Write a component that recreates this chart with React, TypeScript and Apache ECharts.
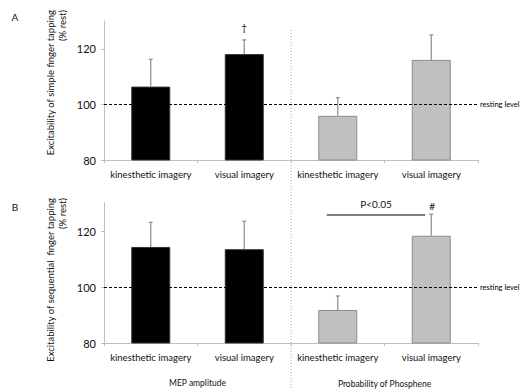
import React, { useEffect, useRef } from "react";
import * as echarts from "echarts";

const categories = ["kinesthetic imagery", "visual imagery", "kinesthetic imagery", "visual imagery"];
const groupTitles = ["MEP amplitude", "Probability of Phosphene"];
const yNames = ["Excitability of simple finger tapping\n(% rest)", "Excitability of sequential  finger tapping\n(% rest)"];
const yTicks = [80, 100, 120];

const simpleMeans = [106.4, 118.1, 95.9, 116.0];
const simpleSD = [9.8, 5.1, 6.5, 9.0];
const seqMeans = [114.3, 113.5, 91.8, 118.3];
const seqSD = [8.8, 10.0, 5.0, 7.7];
const restingLevel = 100;

const FONT = "Lato, 'Open Sans', sans-serif";
const BLACK = "#000000";
const GREY = "#c0c0c0";
const TXT = "#111";

function barData(means: number[]) {
  return means.map((v, i) => ({
    value: v,
    itemStyle: {
      color: i < 2 ? BLACK : GREY,
      borderColor: i < 2 ? "#333" : "#8c8c8c",
      borderWidth: 1,
    },
  }));
}

function errData(means: number[], sd: number[]) {
  return means.map((v, i) => [i, v, v + sd[i]]);
}

const errRender = (params: any, api: any) => {
  const i = api.value(0);
  const base = api.coord([i, api.value(1)]);
  const top = api.coord([i, api.value(2)]);
  const style = { stroke: "#8a8a8a", lineWidth: 1.2 };
  return {
    type: "group",
    children: [
      { type: "line", shape: { x1: base[0], y1: base[1], x2: top[0], y2: top[1] }, style },
      { type: "line", shape: { x1: top[0] - 2, y1: top[1], x2: top[0] + 2, y2: top[1] }, style },
    ],
  };
};

export default function App() {
  const ref = useRef<HTMLDivElement>(null);
  useEffect(() => {
    document.body.style.margin = "0";
    const chart = echarts.init(ref.current!, null, { renderer: "svg" });
    const mkX = (gi: number) => ({
      type: "category",
      gridIndex: gi,
      data: categories,
      axisLine: { lineStyle: { color: "#bfbfbf" } },
      axisTick: { show: true, length: 3, lineStyle: { color: "#bfbfbf" } },
      axisLabel: { interval: 0, hideOverlap: false, fontFamily: FONT, fontSize: 9.5, color: TXT, margin: 9 },
    });
    const mkY = (gi: number) => ({
      type: "value",
      gridIndex: gi,
      min: 80,
      max: 130,
      interval: 20,
      splitLine: { show: false },
      axisLine: { show: true, lineStyle: { color: "#bfbfbf" } },
      axisTick: { show: true, length: 3, lineStyle: { color: "#bfbfbf" }, customValues: yTicks },
      axisLabel: { fontFamily: FONT, fontSize: 11, color: TXT, margin: 8, customValues: yTicks },
    });
    const markLine = {
      silent: true,
      symbol: "none",
      lineStyle: { color: "#000", type: [3, 2], width: 1 },
      label: { show: true, position: "end", formatter: "resting level", fontFamily: FONT, fontSize: 7.5, color: "#000", distance: 2 },
      data: [{ yAxis: restingLevel }],
    };
    chart.setOption({
      animation: false,
      grid: [
        { left: 104, right: 53, top: 21, height: 139 },
        { left: 104, right: 53, top: 203, height: 140 },
      ],
      xAxis: [mkX(0), mkX(1)],
      yAxis: [mkY(0), mkY(1)],
      series: [
        { type: "bar", xAxisIndex: 0, yAxisIndex: 0, barWidth: 39, data: barData(simpleMeans), markLine },
        { type: "custom", xAxisIndex: 0, yAxisIndex: 0, renderItem: errRender, data: errData(simpleMeans, simpleSD), z: 5 },
        { type: "bar", xAxisIndex: 1, yAxisIndex: 1, barWidth: 39, data: barData(seqMeans), markLine },
        { type: "custom", xAxisIndex: 1, yAxisIndex: 1, renderItem: errRender, data: errData(seqMeans, seqSD), z: 5 },
      ],
    });

    const p = (gi: number, i: number, v: number) =>
      chart.convertToPixel({ gridIndex: gi } as any, [i, v]) as number[];
    const c1 = p(0, 1, 100);
    const c2 = p(0, 2, 100);
    const divX = (c1[0] + c2[0]) / 2;
    const c0 = p(0, 0, 100);
    const c3 = p(0, 3, 100);
    const dagger = p(0, 1, simpleMeans[1] + simpleSD[1]);
    const hash = p(1, 3, seqMeans[3] + seqSD[3]);
    const bar2 = p(1, 2, 130);
    const topA = p(0, 0, 130);
    const topB = p(1, 0, 130);
    const txt = (x: number, y: number, text: string, size: number, align = "center") => ({
      type: "text",
      x,
      y,
      style: { text, fontFamily: FONT, fontSize: size, fill: TXT, align, verticalAlign: "middle" },
    });
    const yName = (y: number, text: string) => ({
      type: "text",
      x: 56,
      y,
      rotation: Math.PI / 2,
      style: { text, fontFamily: FONT, fontSize: 9.5, lineHeight: 12, fill: TXT, align: "right", verticalAlign: "middle" },
    });
    chart.setOption({
      graphic: [
        {
          type: "line",
          shape: { x1: divX, y1: 30, x2: divX, y2: 390 },
          style: { stroke: "#aaaaaa", lineWidth: 1, lineDash: [1, 2] },
        },
        txt(15, 17, "A", 10),
        txt(15, 207, "B", 10),
        yName(topA[1] - 11, yNames[0]),
        yName(topB[1] - 5, yNames[1]),
        txt(dagger[0], dagger[1] - 13, "†", 10),
        txt(hash[0] + 1, hash[1] - 8, "#", 10),
        {
          type: "line",
          shape: { x1: bar2[0] - 11, y1: 215, x2: hash[0] - 6, y2: 215 },
          style: { stroke: "#555", lineWidth: 1.5 },
        },
        txt((bar2[0] - 11 + hash[0] - 6) / 2, 204, "P<0.05", 10),
        txt((c0[0] + c1[0]) / 2, 383, groupTitles[0], 8.5),
        txt((c2[0] + c3[0]) / 2, 384, groupTitles[1], 8.5),
      ],
    });
    return () => chart.dispose();
  }, []);
  return <div ref={ref} style={{ width: 531, height: 390 }} />;
}
